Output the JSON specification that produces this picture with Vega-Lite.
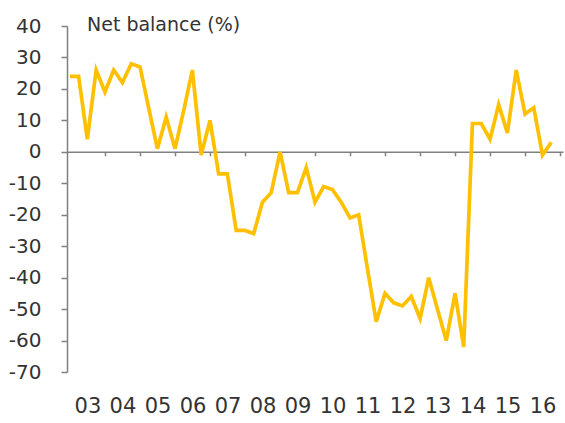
{
  "$schema": "https://vega.github.io/schema/vega-lite/v6.json",
  "width": 496,
  "height": 346,
  "autosize": {"type": "none"},
  "padding": {"left": 67, "top": 26, "right": 2, "bottom": 51},
  "background": "white",
  "config": {"view": {"stroke": null}, "font": "DejaVu Sans"},
  "title": {"text": "Net balance (%)", "anchor": "start", "frame": "group", "dx": 20, "offset": -19, "fontSize": 19, "fontWeight": "normal", "color": "#333333", "font": "DejaVu Sans"},
  "data": {"values": [
    {"date": "2003-01-01", "value": 24}, {"date": "2003-04-01", "value": 24}, {"date": "2003-07-01", "value": 4}, {"date": "2003-10-01", "value": 26},
    {"date": "2004-01-01", "value": 19}, {"date": "2004-04-01", "value": 26}, {"date": "2004-07-01", "value": 22}, {"date": "2004-10-01", "value": 28},
    {"date": "2005-01-01", "value": 27}, {"date": "2005-04-01", "value": 14}, {"date": "2005-07-01", "value": 1}, {"date": "2005-10-01", "value": 11},
    {"date": "2006-01-01", "value": 1}, {"date": "2006-04-01", "value": 13}, {"date": "2006-07-01", "value": 26}, {"date": "2006-10-01", "value": -1},
    {"date": "2007-01-01", "value": 10}, {"date": "2007-04-01", "value": -7}, {"date": "2007-07-01", "value": -7}, {"date": "2007-10-01", "value": -25},
    {"date": "2008-01-01", "value": -25}, {"date": "2008-04-01", "value": -26}, {"date": "2008-07-01", "value": -16}, {"date": "2008-10-01", "value": -13},
    {"date": "2009-01-01", "value": 0}, {"date": "2009-04-01", "value": -13}, {"date": "2009-07-01", "value": -13}, {"date": "2009-10-01", "value": -5},
    {"date": "2010-01-01", "value": -16}, {"date": "2010-04-01", "value": -11}, {"date": "2010-07-01", "value": -12}, {"date": "2010-10-01", "value": -16},
    {"date": "2011-01-01", "value": -21}, {"date": "2011-04-01", "value": -20}, {"date": "2011-07-01", "value": -37}, {"date": "2011-10-01", "value": -54},
    {"date": "2012-01-01", "value": -45}, {"date": "2012-04-01", "value": -48}, {"date": "2012-07-01", "value": -49}, {"date": "2012-10-01", "value": -46},
    {"date": "2013-01-01", "value": -53}, {"date": "2013-04-01", "value": -40}, {"date": "2013-07-01", "value": -50}, {"date": "2013-10-01", "value": -60},
    {"date": "2014-01-01", "value": -45}, {"date": "2014-04-01", "value": -62}, {"date": "2014-07-01", "value": 9}, {"date": "2014-10-01", "value": 9},
    {"date": "2015-01-01", "value": 4}, {"date": "2015-04-01", "value": 15}, {"date": "2015-07-01", "value": 6}, {"date": "2015-10-01", "value": 26},
    {"date": "2016-01-01", "value": 12}, {"date": "2016-04-01", "value": 14}, {"date": "2016-07-01", "value": -1}, {"date": "2016-10-01", "value": 3}
  ]},
  "encoding": {
    "y": {"field": "value", "type": "quantitative",
      "scale": {"domain": [-70, 40], "nice": false, "zero": false},
      "axis": {"values": [-70, -60, -50, -40, -30, -20, -10, 0, 10, 20, 30, 40], "title": null, "grid": false,
        "labelExpr": "datum.value < 0 ? '-' + abs(datum.value) : '' + datum.value",
        "domainColor": "#808080", "domainWidth": 1.5, "tickColor": "#808080", "tickWidth": 1.5, "tickSize": 6,
        "labelFontSize": 20, "labelColor": "#333333", "labelPadding": 20, "labelFont": "DejaVu Sans"}}
  },
  "layer": [
    {
      "mark": {"type": "line", "color": "#FFC000", "strokeWidth": 3.7, "strokeJoin": "miter"},
      "encoding": {
        "x": {"field": "date", "type": "temporal",
          "scale": {"domain": ["2002-12-01", "2017-01-31"]},
          "axis": {"orient": "bottom", "title": null, "grid": false, "domain": false, "ticks": false,
            "values": [{"year": 2003}, {"year": 2004}, {"year": 2005}, {"year": 2006}, {"year": 2007}, {"year": 2008}, {"year": 2009}, {"year": 2010}, {"year": 2011}, {"year": 2012}, {"year": 2013}, {"year": 2014}, {"year": 2015}, {"year": 2016}],
            "format": "%y", "labelOffset": 17.5, "labelFlush": false, "labelOverlap": false, "labelAlign": "center",
            "labelFontSize": 21, "labelColor": "#333333", "labelPadding": 23, "labelFont": "DejaVu Sans"}}
      }
    },
    {
      "mark": {"type": "line", "strokeOpacity": 0},
      "encoding": {
        "x": {"field": "date", "type": "temporal",
          "scale": {"domain": ["2002-12-01", "2017-01-31"]},
          "axis": {"orient": "bottom", "offset": -220.2, "title": null, "grid": false, "labels": false,
            "domain": true, "domainColor": "#808080", "domainWidth": 1.5,
            "ticks": true, "tickColor": "#808080", "tickWidth": 1.5, "tickSize": 4,
            "values": [{"year": 2004}, {"year": 2005}, {"year": 2006}, {"year": 2007}, {"year": 2008}, {"year": 2009}, {"year": 2010}, {"year": 2011}, {"year": 2012}, {"year": 2013}, {"year": 2014}, {"year": 2015}, {"year": 2016}, {"year": 2017}]}}
      }
    }
  ],
  "resolve": {"axis": {"x": "independent"}}
}
